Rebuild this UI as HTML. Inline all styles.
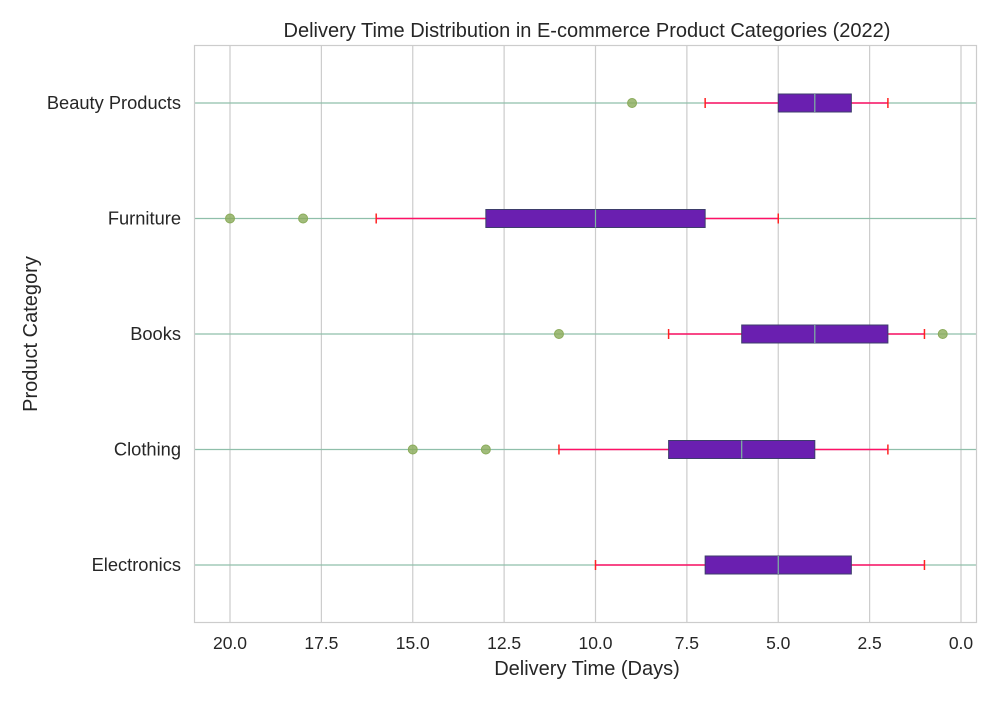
<!DOCTYPE html>
<html><head><meta charset="utf-8"><style>
body{margin:0;background:#fff;}
svg text{font-family:"Liberation Sans",sans-serif;fill:#262626;}
</style></head><body>
<svg id="chart" width="1000" height="700" xmlns="http://www.w3.org/2000/svg">
<rect x="0" y="0" width="1000" height="700" fill="#fff"/>
<g id="grid"></g>
<g id="marks"></g>
<rect x="194.5" y="45.5" width="782" height="577" fill="none" stroke="#cccccc" stroke-width="1.2"/>
<g id="axes"></g>
<text x="587" y="37" font-size="20" text-anchor="middle">Delivery Time Distribution in E-commerce Product Categories (2022)</text>
<text x="587" y="675" font-size="20" text-anchor="middle">Delivery Time (Days)</text>
<text x="37" y="334" font-size="20" text-anchor="middle" transform="rotate(-90 37 334)">Product Category</text>
</svg>
<script>
const categories=["Electronics","Clothing","Books","Furniture","Beauty Products"];
const whiskerLow=[1,2,1,5,2];
const q1=[3,4,2,7,3];
const medians=[5,6,4,10,4];
const q3=[7,8,6,13,5];
const whiskerHigh=[10,11,8,16,7];
const outliers=[[],[13,15],[11,0.5],[18,20],[9]];
const xTicks=[20,17.5,15,12.5,10,7.5,5,2.5,0];
const xTickLabels=["20.0","17.5","15.0","12.5","10.0","7.5","5.0","2.5","0.0"];

const NS="http://www.w3.org/2000/svg";
const X=v=>961-v*36.55;
const Y=i=>565-i*115.5;
function mk(parent,tag,attrs){const e=document.createElementNS(NS,tag);for(const k in attrs)e.setAttribute(k,attrs[k]);document.getElementById(parent).appendChild(e);return e;}

xTicks.forEach((t,i)=>{
  const g=mk('grid','line',{x1:X(t),x2:X(t),y1:46,y2:622,stroke:'#cccccc','stroke-width':1.2});
  
  
  const l=mk('axes','text',{x:X(t),y:649,'font-size':17.5,'text-anchor':'middle'});
  l.textContent=xTickLabels[i];
  
  
});
categories.forEach((c,i)=>{
  const y=Y(i);
  const g=mk('grid','line',{x1:195,x2:976,y1:y,y2:y,stroke:'#8fbfaa','stroke-width':1.2});
  
  
  const l=mk('axes','text',{x:181,y:y+6,'font-size':18.3,'text-anchor':'end'});
  l.textContent=c;
  
  
  const w1=mk('marks','line',{x1:X(whiskerLow[i]),x2:X(q1[i]),y1:y,y2:y,stroke:'#ff1166','stroke-width':1.5});
  
  
  const w2=mk('marks','line',{x1:X(q3[i]),x2:X(whiskerHigh[i]),y1:y,y2:y,stroke:'#ff1166','stroke-width':1.5});
  
  
  [whiskerLow[i],whiskerHigh[i]].forEach(v=>{
    const cp=mk('marks','line',{x1:X(v),x2:X(v),y1:y-5,y2:y+5,stroke:'#ff2222','stroke-width':1.5});
    
    
  });
  const b=mk('marks','rect',{x:X(q3[i]),y:y-9,width:X(q1[i])-X(q3[i]),height:18,fill:'#6a1fb0',stroke:'#3d3d6b','stroke-width':1});
  
  
  const m=mk('marks','line',{x1:X(medians[i]),x2:X(medians[i]),y1:y-9,y2:y+9,stroke:'#7fb8a0','stroke-width':1.2});
  
  
  outliers[i].forEach(v=>{
    const o=mk('marks','circle',{cx:X(v),cy:y,r:4.5,fill:'#8aab5a','fill-opacity':0.8,stroke:'#8aab5a'});
    
    
  });
});
</script>
</body></html>
